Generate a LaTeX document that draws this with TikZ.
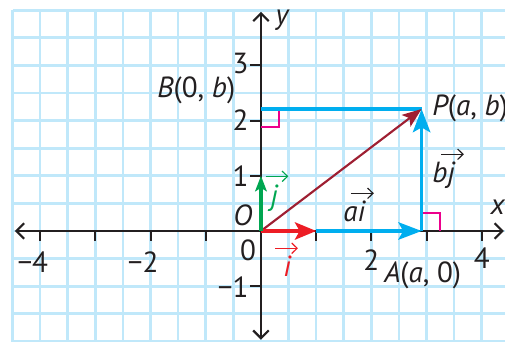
\documentclass[tikz,border=0pt]{standalone}
\usepackage{fontspec}
\setmainfont{PT Sans}
\usetikzlibrary{arrows.meta}
\definecolor{gridc}{RGB}{192,232,250}
\definecolor{ink}{RGB}{35,31,32}
\definecolor{vred}{RGB}{237,28,36}
\definecolor{vgreen}{RGB}{0,166,81}
\definecolor{vcyan}{RGB}{0,174,239}
\definecolor{vdark}{RGB}{158,31,50}
\definecolor{rmag}{RGB}{236,0,140}
% vector label: #1 colour, #2 arrow shift, #3 text
\newcommand{\vlab}[3]{\rlap{\hspace{#2}\tikz[baseline=0pt]\draw[#1, line width=0.6pt,-{Straight Barb[length=2.8pt,width=5.4pt,line width=0.6pt]}] (0,14.8pt) -- ++(11.8pt,0);}\textit{#3}}
\tikzset{
  axisline/.style={ink, line width=1.2pt},
  tickline/.style={ink, line width=1pt},
  barb/.tip={Straight Barb[length=4pt,width=8pt,line width=1.1pt]},
  vecred/.style={vred, line width=1.6pt, -{Stealth[length=11pt,width=9pt,inset=2.5pt]}},
  vecgreen/.style={vgreen, line width=1.6pt, -{Stealth[length=8pt,width=6pt,inset=1.8pt]}},
  veccyan/.style={vcyan, line width=1.6pt, -{Stealth[length=12pt,width=9pt,inset=2.5pt]}},
  cyanline/.style={vcyan, line width=1.6pt},
  vecdark/.style={vdark, line width=1.1pt, -{Stealth[length=10pt,width=7.5pt,inset=2.2pt]}},
  rightang/.style={rmag, line width=1.1pt},
  lab/.style={ink, inner sep=0pt},
  numlab/.style={ink, inner sep=0pt}
}
\begin{document}
\begin{tikzpicture}[x=1cm,y=1cm,font=\fontsize{15}{18}\selectfont]
\useasboundingbox (-4.728,-1.993) rectangle (4.421,4.185);
\begin{scope}
  \clip (-4.728,-1.993) rectangle (4.421,4.185);
  \draw[gridc, line width=1.35pt] (-4.5,-2.5) grid[step=0.5] (4.6,4);
\end{scope}
% axes
\coordinate (xl) at (-4.46,0);
\coordinate (xr) at (4.40,0);
\coordinate (yb) at (0,-1.97);
\coordinate (yt) at (0,3.97);
\draw[axisline, barb-barb] (xl) -- (xr);
\draw[axisline, barb-barb] (yb) -- (yt);
\foreach \k in {-4,-3,-2,-1,1,2,3,4} \draw[tickline] (\k,0) -- (\k,-0.19);
\foreach \k in {-1,1,2,3} \draw[tickline] (0,\k) -- (-0.19,\k);
% tick labels
\node[numlab] (xm4) at (-4,-0.56) {\llap{−}4};
\node[numlab] (xm2) at (-2,-0.56) {\llap{−}2};
\node[numlab] (xp2) at (2,-0.53) {2};
\node[numlab] (xp4) at (4,-0.50) {4};
\node[numlab, anchor=east] (ym1) at (-0.22,-1.02) {−1};
\node[numlab, anchor=east] (yp1) at (-0.22,1) {1};
\node[numlab, anchor=east] (yp2) at (-0.22,2) {2};
\node[numlab, anchor=east] (yp3) at (-0.22,3.03) {3};
\node[numlab] (zero) at (-0.235,-0.345) {0};
\node[lab] (Olab) at (-0.33,0.29) {\itshape O};
\node[lab] (xlab) at (4.29,0.43) {\itshape x};
\node[lab] (ylab) at (0.38,3.82) {\itshape y};
% points
\coordinate (O) at (0,0);
\coordinate (I) at (1,0);
\coordinate (J) at (0,1);
\coordinate (A) at (2.91,0);
\coordinate (P) at (2.91,2.21);
\coordinate (B) at (0,2.21);
% right angle marks
\draw[rightang] (B) ++(0,-0.33) -- ++(0.33,0) -- ++(0,0.33);
\draw[rightang] (A) ++(0,0.33) -- ++(0.34,0) -- ++(0,-0.33);
% vectors
\draw[cyanline] (B) -- (P);
\draw[veccyan] (I) -- (A);
\draw[vecdark] (O) -- (P);
\draw[veccyan] (A) -- (P);
\draw[vecred] (O) -- (I);
\draw[vecgreen] (O) -- (J);
% labels
\node[lab] (Blab) at (-1.17,2.54) {\itshape B\upshape(0, \itshape b\upshape)};
\node[lab, anchor=west] (Plab) at (3.10,2.22) {\itshape P\upshape(\itshape a\upshape, \itshape b\upshape)};
\node[lab] (Alab) at (2.93,-0.80) {\itshape A\upshape(\itshape a\upshape, 0)};
\node[lab, anchor=base west] (ailab) at (1.486,0.163) {\vlab{ink}{3.6pt}{ai}};
\node[lab, anchor=base west] (bjlab) at (3.10,0.87) {\vlab{ink}{4.1pt}{bj}};
\node[lab, anchor=base west, text=vred] (ilab) at (0.40,-0.833) {\vlab{vred}{-4.6pt}{i}};
\node[lab, anchor=base west, text=vgreen] (jlab) at (0.17,0.47) {\vlab{vgreen}{-3pt}{j}};
\end{tikzpicture}
\end{document}
